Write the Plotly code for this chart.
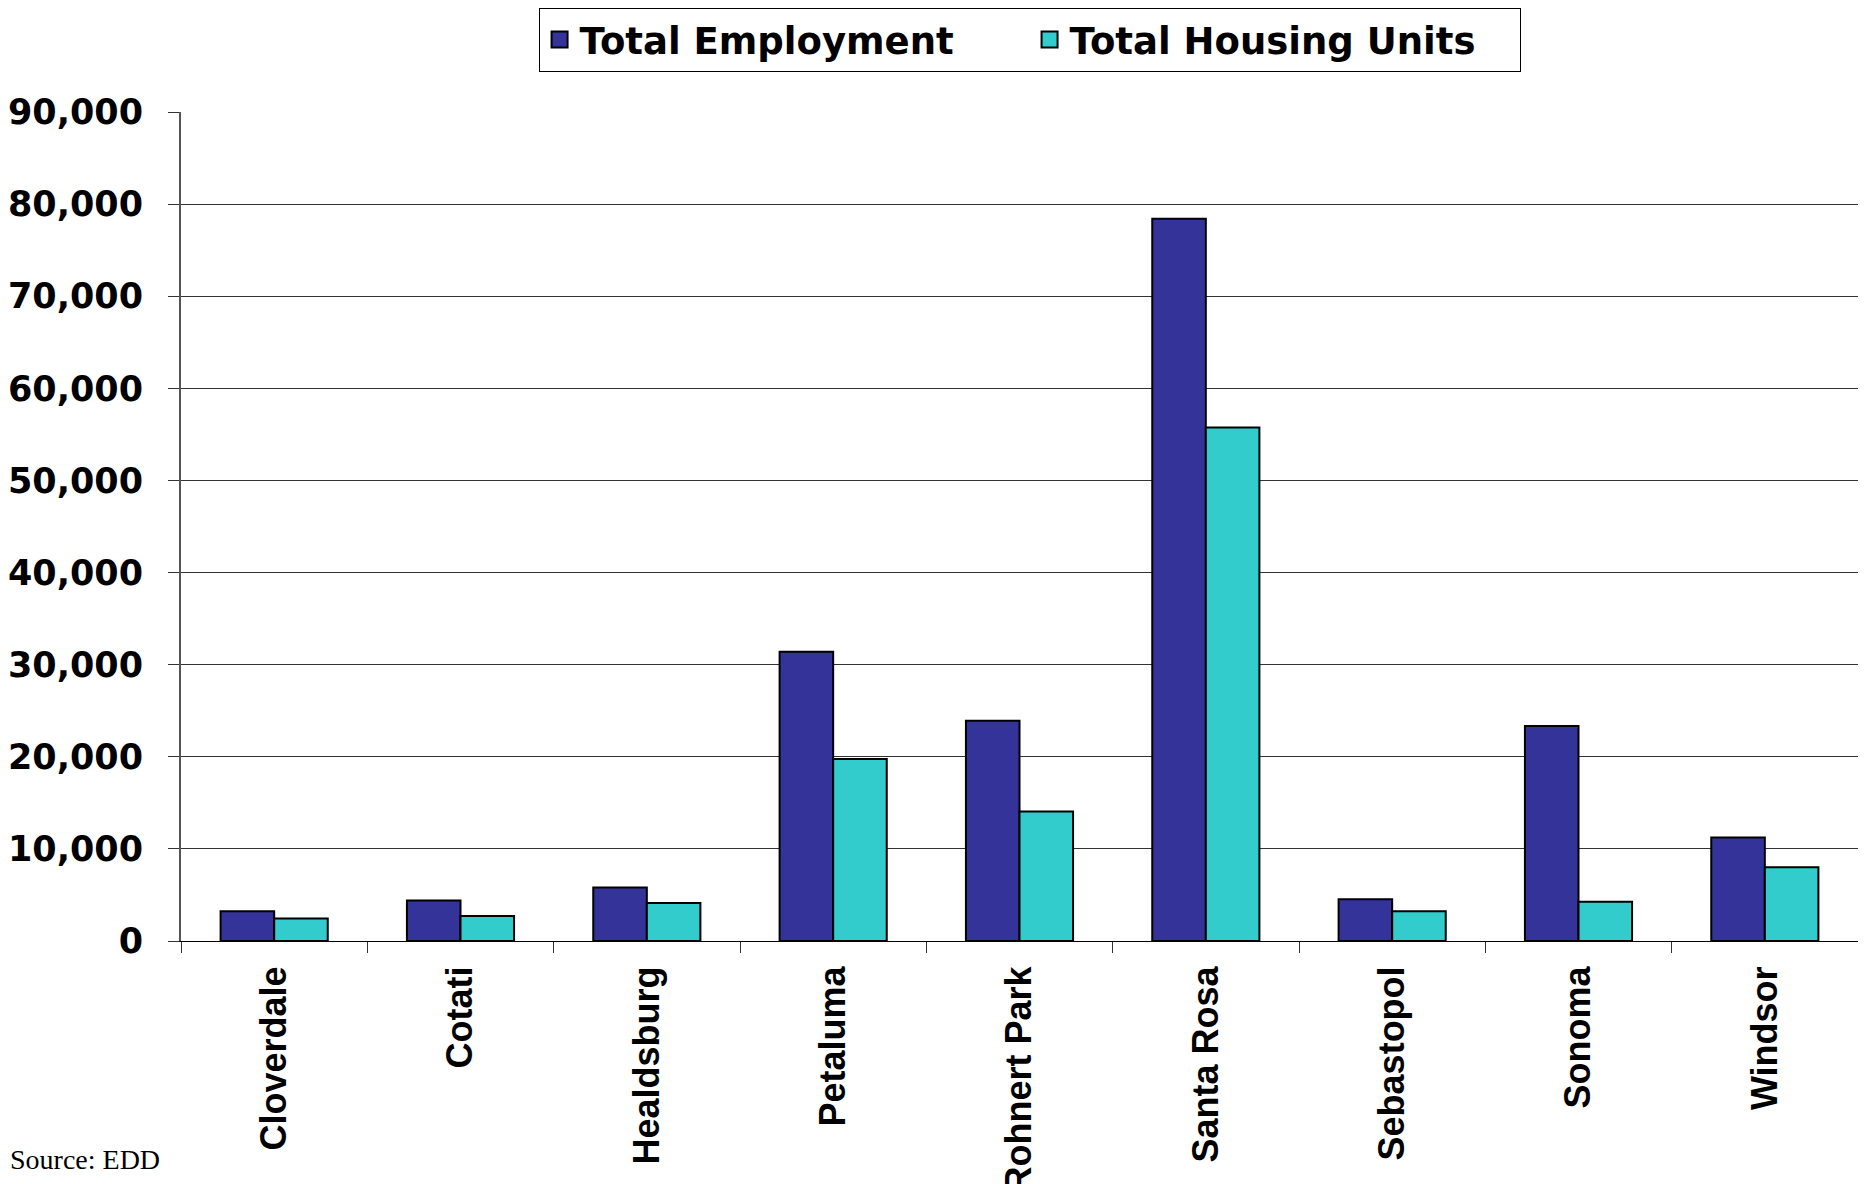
import plotly.graph_objects as go

cities = ["Cloverdale", "Cotati", "Healdsburg", "Petaluma", "Rohnert Park",
          "Santa Rosa", "Sebastopol", "Sonoma", "Windsor"]
total_employment = [3230, 4390, 5810, 31400, 23900, 78400, 4530, 23350, 11230]
total_housing = [2450, 2710, 4130, 19750, 14050, 55750, 3240, 4260, 8000]
y_ticks = [0, 10000, 20000, 30000, 40000, 50000, 60000, 70000, 80000, 90000]

EMP_COLOR = "#333399"
HOUSE_COLOR = "#33CCCC"

fig = go.Figure()
fig.add_trace(go.Bar(x=cities, y=total_employment, name="Total Employment",
                     marker=dict(color=EMP_COLOR, line=dict(color="black", width=2)),
                     showlegend=False))
fig.add_trace(go.Bar(x=cities, y=total_housing, name="Total Housing Units",
                     marker=dict(color=HOUSE_COLOR, line=dict(color="black", width=2)),
                     showlegend=False))

# legend-only entries so the swatches can be bigger than the bar default
for name, color in [("Total Employment", EMP_COLOR), ("Total Housing Units", HOUSE_COLOR)]:
    fig.add_trace(go.Scatter(x=[None], y=[None], mode="markers", name=name,
                             marker=dict(symbol="square", size=16, color=color,
                                         line=dict(color="black", width=2))))

# page body adds an 8px margin, so the figure is 8px smaller than the window
fig.update_layout(
    width=1858, height=1176,
    barmode="group", bargap=0.425, bargroupgap=0,
    plot_bgcolor="white", paper_bgcolor="white",
    margin=dict(l=173, r=8, t=104, b=243, autoexpand=False),
    showlegend=True,
    legend=dict(
        orientation="h", x=0.506, y=1.1255, xanchor="center", yanchor="top",
        bordercolor="black", borderwidth=1, bgcolor="white",
        font=dict(family="DejaVu Sans", size=37, color="black", weight="bold"),
        itemsizing="trace", entrywidth=445, entrywidthmode="pixels",
    ),
    annotations=[dict(
        text="Source: EDD", xref="paper", yref="paper",
        x=-173 / 1677, y=-0.264, xanchor="left", yanchor="middle", showarrow=False,
        font=dict(family="Liberation Serif", size=28, color="black"),
    )],
)

fig.update_yaxes(
    range=[0, 90000], tickvals=y_ticks, tickformat=",d",
    showgrid=True, gridcolor="#333333", gridwidth=1,
    showline=True, linecolor="#555555", linewidth=2, mirror=True,
    ticks="outside", ticklen=11, tickcolor="#333333",
    ticklabelstandoff=18, automargin=False,
    tickfont=dict(family="DejaVu Sans", size=35, color="black", weight="bold"),
    zeroline=False,
)
fig.update_xaxes(
    tickangle=-90, tickson="boundaries", ticks="outside", ticklen=11, tickcolor="#333333",
    showline=True, linecolor="black", linewidth=1,
    ticklabelstandoff=10, automargin=False,
    tickfont=dict(family="Liberation Sans", size=36, color="black", weight="bold"),
    showgrid=False,
)

fig.write_html("out.html")
